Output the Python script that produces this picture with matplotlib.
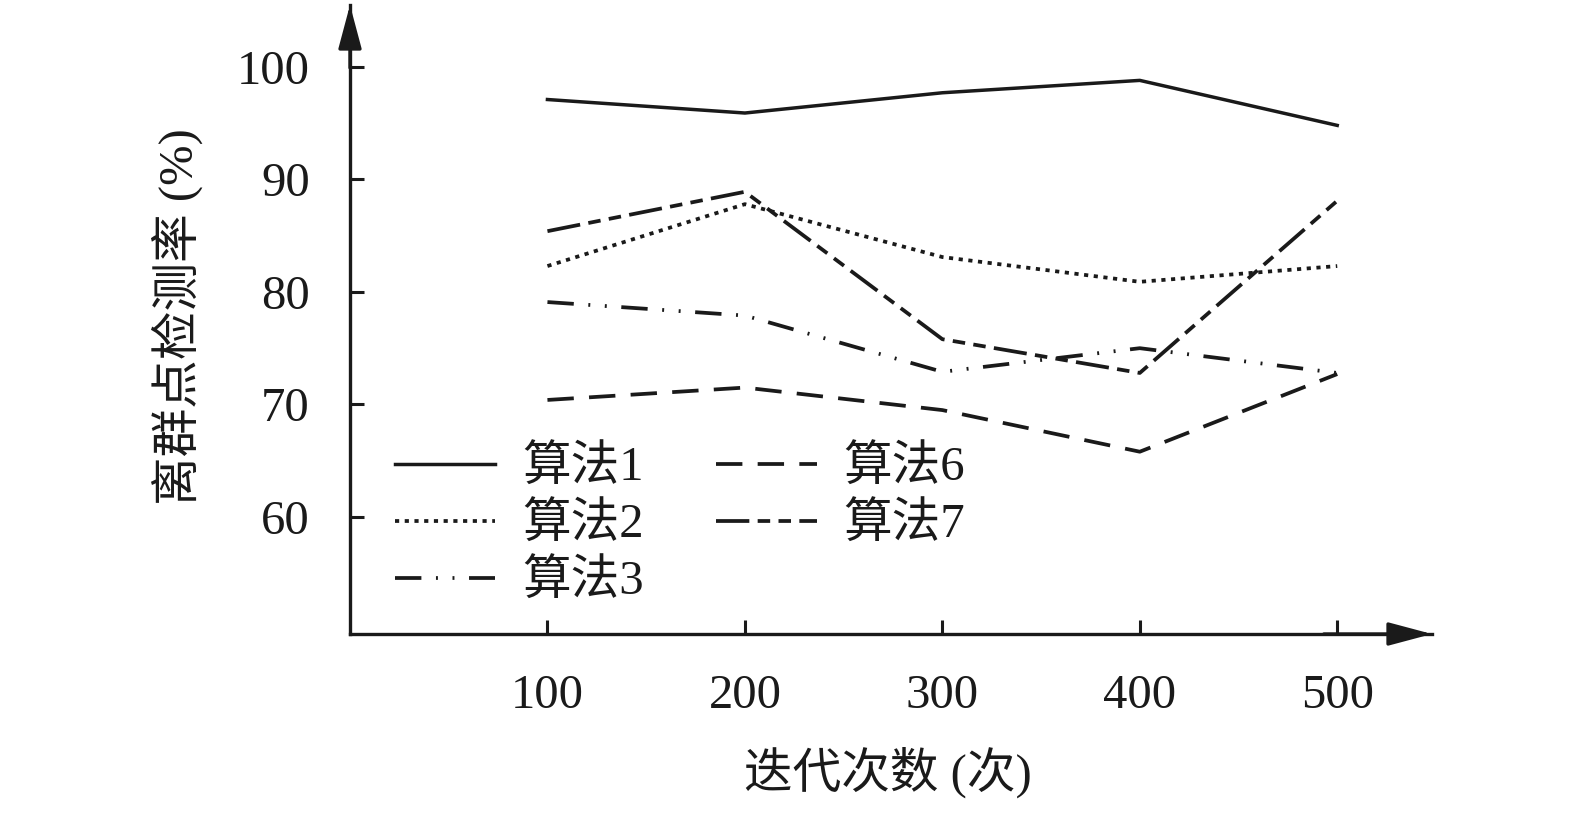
import matplotlib
matplotlib.use("Agg")
import matplotlib.pyplot as plt

plt.rcParams['font.family'] = ['Liberation Serif', 'Noto Sans CJK SC', 'DejaVu Sans']
plt.rcParams['lines.scale_dashes'] = False

iterations = [100, 200, 300, 400, 500]
alg1 = [97.1, 95.9, 97.7, 98.8, 94.8]
alg2 = [82.3, 87.8, 83.1, 80.9, 82.3]
alg3 = [79.1, 77.9, 72.9, 75.0, 72.8]
alg6 = [70.4, 71.5, 69.5, 65.8, 72.7]
alg7 = [85.4, 88.9, 75.8, 72.8, 88.1]
labels = ['算法1', '算法2', '算法3', '算法6', '算法7']
yticks = [60, 70, 80, 90, 100]

W, H = 1575, 817
fig = plt.figure(figsize=(W / 100, H / 100), dpi=100)
ax = fig.add_axes([350 / W, (H - 634) / H, 1082 / W, 629 / H])

c = '#1a1a1a'
lw = 2.7
ax.plot(iterations, alg1, color=c, lw=2.5, label=labels[0])
ax.plot(iterations, alg2, color=c, lw=lw, dashes=(3.0, 4.0), label=labels[1])
ax.plot(iterations, alg3, color=c, lw=lw, dashes=(19, 10.5, 1.4, 10.5, 1.4, 10.5), label=labels[2])
ax.plot(iterations, alg6, color=c, lw=lw, dashes=(19, 11), label=labels[3])
ax.plot(iterations, alg7, color=c, lw=lw, dashes=(24, 6, 9, 6, 9, 6), label=labels[4])

ax.set_xlim(0, 548)
ax.set_ylim(49.6, 105.5)
ax.set_xticks(iterations)
ax.set_yticks(yticks)
ax.tick_params(axis='both', direction='in', length=10, width=2.2, labelsize=35, color=c,
               labelcolor=c)
ax.tick_params(axis='y', pad=29)
ax.tick_params(axis='x', pad=29)

for s in ['top', 'right']:
    ax.spines[s].set_visible(False)
for s in ['left', 'bottom']:
    ax.spines[s].set_linewidth(2.4)
    ax.spines[s].set_color(c)

arrow = dict(arrowstyle='-|>,head_length=2.7,head_width=0.72', color=c,
             lw=2.4, shrinkA=0, shrinkB=0, mutation_scale=10)
ax.annotate('', xy=(0, 1), xytext=(0, 0.9), xycoords='axes fraction', arrowprops=arrow,
            annotation_clip=False)
ax.annotate('', xy=(1, 0), xytext=(0.9, 0), xycoords='axes fraction', arrowprops=arrow,
            annotation_clip=False)

fig.text(177 / W, 1 - 317 / H, '离群点检测率 (%)', rotation=90, ha='center', va='center',
         fontsize=35, color=c)
fig.text(888 / W, 1 - 772 / H, '迭代次数 (次)', ha='center', va='center',
         fontsize=35, color=c)

leg = ax.legend(loc='upper left', bbox_to_anchor=(395 / W, 1 - 446 / H),
                bbox_transform=fig.transFigure, ncol=2, frameon=False, fontsize=35,
                handlelength=2.06, handletextpad=0.55, columnspacing=1.5,
                labelspacing=0.25, borderpad=0, borderaxespad=0)
for t in leg.get_texts():
    t.set_color(c)

fig.savefig('out.png', dpi=100)
